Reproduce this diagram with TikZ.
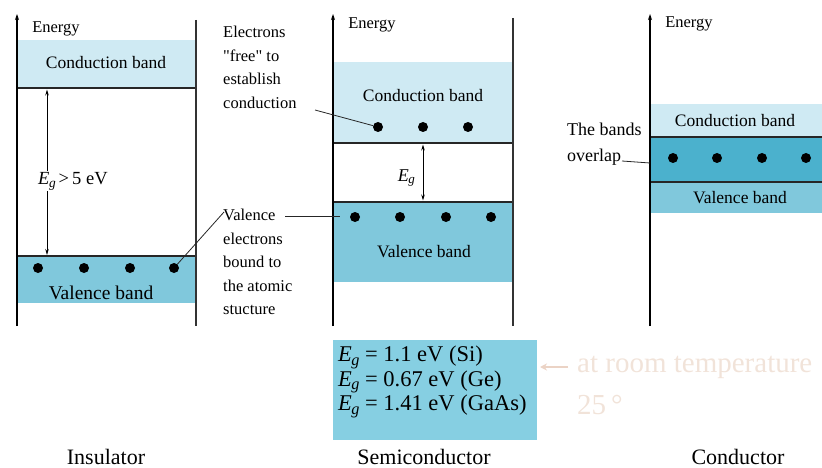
\documentclass[tikz,border=0pt]{standalone}
\usepackage{fontspec}
\setmainfont{Liberation Serif}
\usetikzlibrary{arrows.meta}
\definecolor{cbcol}{HTML}{CFEAF3}
\definecolor{vbcol}{HTML}{80C8DC}
\definecolor{ovcol}{HTML}{4BB1CD}
\definecolor{boxcol}{HTML}{86CFE2}
\definecolor{faint}{HTML}{F1E3D9}
\definecolor{faintarr}{HTML}{EBD3C5}
\newcommand{\myEg}{\textit{E}\kern-0.5pt\raisebox{-0.35ex}{\scalebox{0.72}{\textit{g}}}}
\begin{document}
\begin{tikzpicture}[x=1pt,y=-1pt,
  axis/.style={line width=1.1pt,-{Stealth[length=6pt,width=4pt]}},
  side/.style={line width=1.1pt,black!80},
  edgeline/.style={line width=2.6pt,black!85},
  thinedge/.style={line width=1.6pt,black!85},
  dot/.style={circle,fill=black,inner sep=0pt,minimum size=10pt},
  lbl/.style={font=\fontsize{16.5}{23.5}\selectfont,inner sep=0pt,align=left},
  bandtxt/.style={font=\fontsize{17.5}{20}\selectfont,inner sep=0pt},
  energytxt/.style={font=\fontsize{16.5}{20}\selectfont,inner sep=0pt},
  titletxt/.style={font=\fontsize{22}{26}\selectfont,inner sep=0pt},
  lead/.style={line width=0.8pt,black!85},
  gaparrow/.style={line width=0.8pt,{Stealth[length=6pt,width=3.5pt]}-{Stealth[length=6pt,width=3.5pt]}}
]
\useasboundingbox (0,0) rectangle (822,468);

% ---------------- Insulator ----------------
\fill[cbcol] (17,40) rectangle (196,88);
\fill[vbcol] (17,256) rectangle (196,303);
\draw[edgeline] (17,88) -- (196,88);
\draw[thinedge] (17,256) -- (196,256);
\coordinate (ia0) at (17,326); \coordinate (ia1) at (17,14);
\draw[axis] (ia0) -- (ia1);
\coordinate (is0) at (196,20); \coordinate (is1) at (196,326);
\draw[side] (is0) -- (is1);
\node[energytxt] (ien) at (56,29) {Energy};
\node[bandtxt] (icb) at (106,63) {Conduction band};
\node[bandtxt,font=\fontsize{19.5}{22}\selectfont] (ivb) at (101,293) {Valence band};
\node[dot] (id1) at (38,268) {};
\node[dot] (id2) at (84,268) {};
\node[dot] (id3) at (130,268) {};
\node[dot] (id4) at (174,268) {};
\coordinate (ig1) at (47,89.5); \coordinate (ig2) at (47,255);
\draw[gaparrow] (ig1) -- (ig2);
\node[fill=white,inner sep=1pt,font=\fontsize{18.5}{22}\selectfont,anchor=west] (igl) at (37,181) {\myEg\,>\,5 eV};
\node[titletxt] (ititle) at (106,457) {Insulator};

% ---------------- Semiconductor ----------------
\fill[cbcol] (333,62) rectangle (513,143);
\fill[vbcol] (333,202) rectangle (513,282);
\draw[edgeline] (333,143) -- (513,143);
\draw[edgeline] (333,202) -- (513,202);
\coordinate (sa0) at (333,326); \coordinate (sa1) at (333,14);
\draw[axis] (sa0) -- (sa1);
\coordinate (ss0) at (513,18); \coordinate (ss1) at (513,326);
\draw[side] (ss0) -- (ss1);
\node[energytxt] (sen) at (372,25) {Energy};
\node[bandtxt] (scb) at (423,96) {Conduction band};
\node[bandtxt] (svb) at (424,252) {Valence band};
\node[dot] (sc1) at (378,127) {};
\node[dot] (sc2) at (423,127) {};
\node[dot] (sc3) at (468,127) {};
\node[dot] (sv1) at (355,217) {};
\node[dot] (sv2) at (400,217) {};
\node[dot] (sv3) at (446,217) {};
\node[dot] (sv4) at (491,217) {};
\coordinate (sg1) at (423,144.5); \coordinate (sg2) at (423,200.5);
\draw[gaparrow] (sg1) -- (sg2);
\node[font=\fontsize{18}{20}\selectfont,inner sep=0pt,anchor=east] (sgl) at (415,178) {\myEg};

\node[lbl,anchor=north west] (free) at (223,26) {Electrons\\\textquotedbl free\textquotedbl{} to\\establish\\conduction};
\coordinate (freeend) at (315,110);
\draw[lead] (freeend) -- (sc1);

\node[lbl,anchor=north west] (bound) at (223,209) {Valence\\electrons\\bound to\\the atomic\\stucture};
\coordinate (vl0) at (285,216); \coordinate (vl1) at (340,216);
\draw[lead] (vl0) -- (vl1);
\coordinate (vd0) at (224,212);
\draw[lead] (vd0) -- (id4);

% Eg values box
\node[fill=boxcol,minimum width=204pt,minimum height=100pt,inner sep=0pt] (egbox) at (435,390) {};
\node[font=\fontsize{22.5}{24.5}\selectfont,inner sep=0pt,align=left,anchor=north west] (egtxt) at (338,346)
  {\myEg{} = 1.1 eV (Si)\\\myEg{} = 0.67 eV (Ge)\\\myEg{} = 1.41 eV (GaAs)};
\node[titletxt] (stitle) at (424,457) {Semiconductor};

% faint note
\node[font=\fontsize{29}{42}\selectfont,text=faint,inner sep=0pt,align=left,anchor=north west] (note) at (577,356) {at room temperature\\25\,°};
\coordinate (na0) at (568,367); \coordinate (na1) at (540,367);
\draw[faintarr,line width=2.5pt,-{Stealth[length=7pt,width=7pt]}] (na0) -- (na1);

% ---------------- Conductor ----------------
\fill[cbcol] (650,104) rectangle (822,137);
\fill[ovcol] (650,137) rectangle (822,182);
\fill[vbcol] (650,182) rectangle (822,213);
\draw[edgeline] (650,137) -- (822,137);
\draw[edgeline] (650,182) -- (822,182);
\coordinate (ca0) at (650,326); \coordinate (ca1) at (650,14);
\draw[axis] (ca0) -- (ca1);
\node[energytxt] (cen) at (689,24) {Energy};
\node[bandtxt] (ccb) at (735,121) {Conduction band};
\node[bandtxt] (cvb) at (740,198) {Valence band};
\node[dot] (cd1) at (673,158) {};
\node[dot] (cd2) at (717,158) {};
\node[dot] (cd3) at (762,158) {};
\node[dot] (cd4) at (806,158) {};
\node[lbl,font=\fontsize{18}{26}\selectfont,anchor=north west] (overlap) at (567,123) {The bands\\overlap};
\coordinate (ol0) at (622,161); \coordinate (ol1) at (650,163);
\draw[lead] (ol0) -- (ol1);
\node[titletxt] (ctitle) at (738,457) {Conductor};
\end{tikzpicture}
\end{document}
